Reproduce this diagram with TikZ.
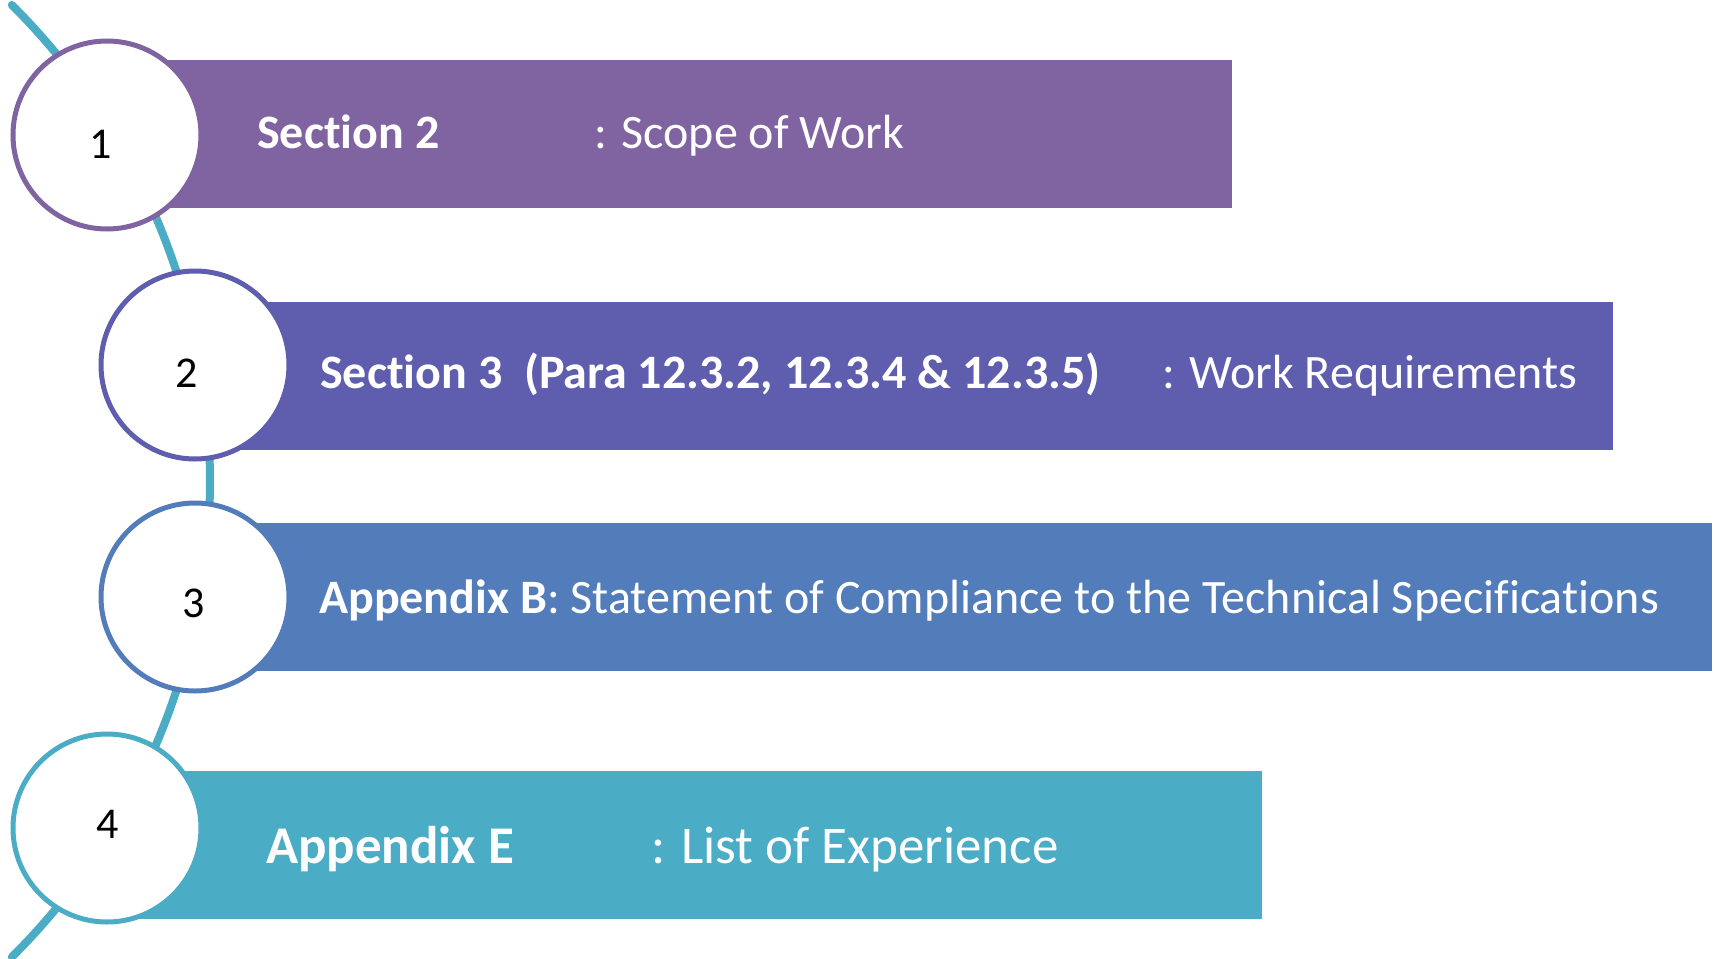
\documentclass[tikz,border=0pt]{standalone}
\usepackage{fontspec}
\setmainfont[Ligatures=NoCommon]{Carlito}
\definecolor{cA}{HTML}{8064A2}
\definecolor{cB}{HTML}{5F5DAD}
\definecolor{cC}{HTML}{537CBA}
\definecolor{cD}{HTML}{4BACC6}
\tikzset{
  bar/.style={fill=#1, draw=none},
  numcirc/.style={circle, draw=#1, line width=5pt, fill=white, minimum size=188pt, inner sep=0pt},
  numtxt/.style={font=\fontsize{44}{50}\selectfont, text=black, inner sep=0pt, anchor=base},
  boldtxt/.style={font=\fontsize{48}{56}\selectfont\bfseries, text=white, inner sep=0pt, anchor=base west},
  regtxt/.style={font=\fontsize{48}{56}\selectfont, text=white, inner sep=0pt, anchor=base west},
  bigbold/.style={font=\fontsize{53}{60}\selectfont\bfseries, text=white, inner sep=0pt, anchor=base west},
  bigreg/.style={font=\fontsize{53}{60}\selectfont, text=white, inner sep=0pt, anchor=base west},
  spine/.style={draw=cD, line width=8pt, line cap=round}
}
\begin{document}
\begin{tikzpicture}[x=1pt,y=-1pt]
\useasboundingbox (0,0) rectangle (1715,958);
% spine arc
\coordinate (arcc) at (-461,481);
\draw[spine] (arcc) ++(-45.2:671) arc[start angle=-45.2, end angle=45.2, radius=671];
% bars
\fill[bar=cA] (107,60) rectangle (1232,208);
\fill[bar=cB] (195,302) rectangle (1613,450);
\fill[bar=cC] (195,523) rectangle (1712,671);
\fill[bar=cD] (107,771) rectangle (1262,919);
% circles
\node[numcirc=cA] (c1) at (107,135) {};
\node[numcirc=cB] (c2) at (195,365) {};
\node[numcirc=cC] (c3) at (195,597) {};
\node[numcirc=cD] (c4) at (107,828) {};
\node[numtxt] (n1) at (101,158) {1};
\node[numtxt] (n2) at (187,387) {2};
\node[numtxt] (n3) at (194,617) {3};
\node[numtxt] (n4) at (108,838) {4};
% texts
\node[boldtxt] (t1a) at (257,148) {Section 2};
\node[regtxt] (t1b) at (594,148) {: Scope of Work};
\node[boldtxt] (t2a) at (320,388) {Section 3\ \ (Para 12.3.2, 12.3.4 \& 12.3.5)};
\node[regtxt] (t2b) at (1162,388) {: Work Requirements};
\node[regtxt] (t3) at (319,613) {\textbf{Appendix B}: Statement of Compliance to the Technical Specifications};
\node[bigbold] (t4a) at (266,863) {Appendix E};
\node[bigreg] (t4b) at (651,863) {: List of Experience};
\end{tikzpicture}
\end{document}
